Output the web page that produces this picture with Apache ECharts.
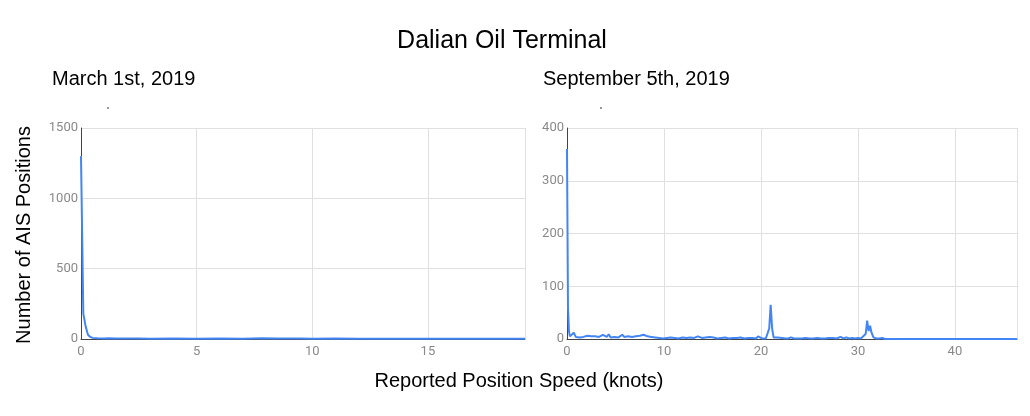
<!DOCTYPE html>
<html>
<head>
<meta charset="utf-8">
<script src="https://cdn.jsdelivr.net/npm/echarts@6/dist/echarts.min.js"></script>
<style>html,body{margin:0;padding:0;background:#fff}#c{width:1030px;height:416px}</style>
</head>
<body>
<div id="c"></div>
<script>
// ---- data ----
var mainTitle = 'Dalian Oil Terminal';
var leftTitle = 'March 1st, 2019';
var rightTitle = 'September 5th, 2019';
var yLabel = 'Number of AIS Positions';
var xLabel = 'Reported Position Speed (knots)';

var speedsLeft = [0,0.1,0.2,0.3,0.4,0.5,0.7,1,1.2,1.5,2,2.5,3,4,5,6,7,7.8,8.5,9.5,10,11,12,13,14,15,16,17,18,19.2];
var countsLeft = [1300,180,90,30,15,8,5,4,5,3,4,3,2,3,2,3,2,5,3,4,2,3,2,2,1,2,1,1,1,1];

var speedsRight = [0,0.1,0.2,0.3,0.5,0.7,0.9,1.1,1.3,1.5,1.7,1.9,2.1,2.3,2.5,2.7,2.9,3.1,3.3,3.5,3.7,3.9,4.1,4.3,4.5,4.7,4.9,5.1,5.3,5.5,5.7,5.9,6.1,6.3,6.5,6.7,6.9,7.1,7.3,7.5,7.7,7.9,8.1,8.3,8.5,8.7,8.9,9.1,9.3,9.5,9.7,9.9,10.1,10.3,10.5,10.7,10.9,11.1,11.3,11.5,11.7,11.9,12.1,12.3,12.5,12.7,12.9,13.1,13.3,13.5,13.7,13.9,14.1,14.3,14.5,14.7,14.9,15.1,15.3,15.5,15.7,15.9,16.1,16.3,16.5,16.7,16.9,17.1,17.3,17.5,17.7,17.9,18.1,18.3,18.5,18.7,18.9,19.1,19.3,19.5,19.7,19.9,20.1,20.3,20.5,20.7,20.85,21.0,21.15,21.3,21.5,21.7,21.9,22.2,22.5,22.8,23.1,23.4,23.8,24.2,24.6,25.0,25.4,25.8,26.2,26.6,27.0,27.4,27.8,28.2,28.5,28.8,29.1,29.4,29.7,30.0,30.3,30.6,30.8,30.95,31.1,31.25,31.4,31.6,31.9,32.2,32.5,32.8,46.4];
var countsRight = [360,60,15,5,3,12,4,7,3,6,4,3,6,4,5,3,5,2,4,6,8,5,4,9,3,6,4,7,3,5,8,4,2,5,3,4,2,5,4,6,5,8,7,5,3,4,2,3,4,2,3,1,3,2,4,3,5,2,3,1,2,3,1,2,1,3,4,2,3,5,4,2,1,3,2,4,1,3,2,1,3,2,1,3,2,1,3,2,4,2,1,3,2,1,3,2,4,2,3,1,5,2,1,2,1,3,20,65,20,3,2,3,1,2,1,1,3,1,1,1,2,1,1,2,1,1,2,2,1,4,1,3,1,2,1,2,1,6,10,35,15,25,12,3,1,1,2,0,0];

var leftYTicks = {min:0, max:1500, interval:500};
var rightYTicks = {min:0, max:400, interval:100};
var leftXTicks = {min:0, max:19.2, interval:5};
var rightXTicks = {min:0, max:46.4, interval:10};

function pairs(xs, ys){ return xs.map(function(x,i){ return [x, ys[i]]; }); }

var labelColor = '#8a8a8a';
var gridColor = '#e0e0e0';
var lineColor = '#4285f4';
var font = '"Liberation Sans", Arial, sans-serif';

function xAxis(idx, t){
  return {type:'value', gridIndex:idx, min:t.min, max:t.max, interval:t.interval,
    axisLine:{show:true, onZero:false, lineStyle:{color:'#444', width:1}},
    axisTick:{show:false},
    axisLabel:{color:labelColor, fontSize:13, fontFamily:'Roboto, sans-serif', margin:6, showMaxLabel:false,
      formatter:function(v){ return String(v); }},
    splitLine:{show:true, lineStyle:{color:gridColor, width:1}}};
}
function yAxis(idx, t){
  return {type:'value', gridIndex:idx, min:t.min, max:t.max, interval:t.interval,
    axisLine:{show:true, lineStyle:{color:'#444', width:1}},
    axisTick:{show:false},
    axisLabel:{color:labelColor, fontSize:13, fontFamily:'Roboto, sans-serif', margin:3,
      formatter:function(v){ return String(v); }},
    splitLine:{show:true, lineStyle:{color:gridColor, width:1}}};
}

var chart = echarts.init(document.getElementById('c'), null, {renderer:'canvas'});
chart.setOption({
  animation:false,
  backgroundColor:'#fff',
  title:[
    {text:mainTitle, left:502, top:29, padding:0, textAlign:'center', textStyle:{fontFamily:font, fontSize:25, fontWeight:'normal', color:'#000'}},
    {text:leftTitle, left:52, top:69, padding:0, textStyle:{fontFamily:font, fontSize:20, fontWeight:'normal', color:'#000'}},
    {text:rightTitle, left:543, top:69, padding:0, textStyle:{fontFamily:font, fontSize:20, fontWeight:'normal', color:'#000'}}
  ],
  grid:[
    {left:81, right:505, top:128, bottom:77, containLabel:false},
    {left:567, right:13, top:128, bottom:77, containLabel:false}
  ],
  xAxis:[xAxis(0, leftXTicks), xAxis(1, rightXTicks)],
  yAxis:[yAxis(0, leftYTicks), yAxis(1, rightYTicks)],
  series:[
    {type:'line', xAxisIndex:0, yAxisIndex:0, data:pairs(speedsLeft, countsLeft), showSymbol:false, symbol:'none', lineStyle:{color:lineColor, width:2}, clip:true},
    {type:'line', xAxisIndex:1, yAxisIndex:1, data:pairs(speedsRight, countsRight), showSymbol:false, symbol:'none', lineStyle:{color:lineColor, width:2}, clip:true}
  ],
  graphic:[
    {type:'text', x:24, y:235, rotation:Math.PI/2, style:{text:yLabel, fontFamily:font, fontSize:20, fill:'#000', align:'center', verticalAlign:'middle'}},
    {type:'text', x:519, y:381, style:{text:xLabel, fontFamily:font, fontSize:20, fill:'#000', align:'center', verticalAlign:'middle'}},
    {type:'circle', shape:{cx:108, cy:108, r:1}, style:{fill:'#777'}},
    {type:'circle', shape:{cx:601, cy:108, r:1}, style:{fill:'#777'}}
  ]
});
</script>
</body>
</html>
